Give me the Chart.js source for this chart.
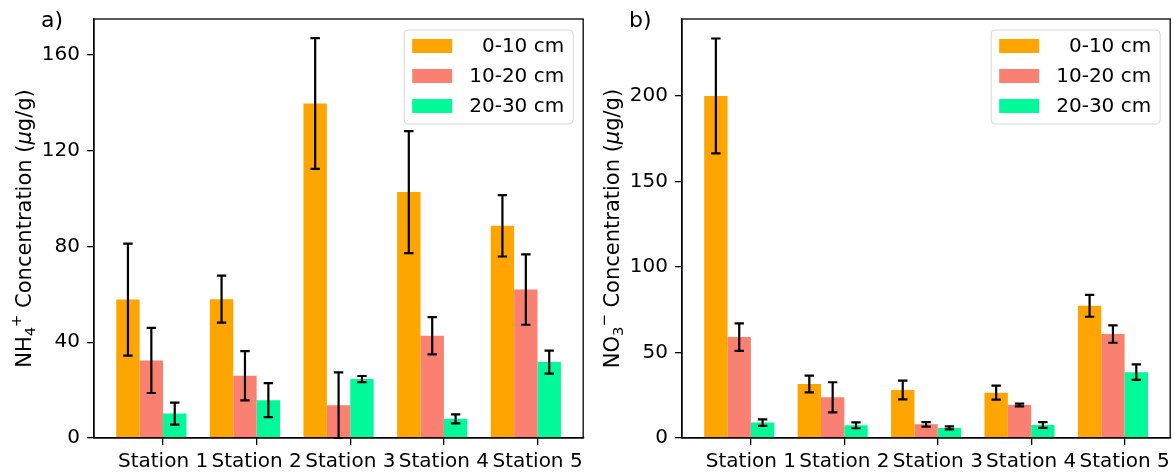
<!DOCTYPE html>
<html>
<head>
<meta charset="utf-8">
<script src="https://cdn.jsdelivr.net/npm/chart.js@4.4.0/dist/chart.umd.min.js"></script>
<style>
  body { margin: 0; background: #fff; }
  #wrap { display: flex; width: 1175px; height: 474px; }
  canvas { display: block; }
</style>
</head>
<body>
<div id="wrap">
  <canvas id="chartA" width="588" height="474"></canvas>
  <canvas id="chartB" width="587" height="474"></canvas>
</div>
<script>
// data
const stations = ["Station 1", "Station 2", "Station 3", "Station 4", "Station 5"];
const depths = ["0-10 cm", "10-20 cm", "20-30 cm"];

const nh4Top = [57.8, 58.0, 139.7, 102.7, 88.6];
const nh4TopErr = [23.4, 9.8, 27.3, 25.5, 12.8];
const nh4Mid = [32.4, 26.0, 13.7, 42.7, 62.0];
const nh4MidErr = [13.6, 10.3, 13.7, 7.8, 14.7];
const nh4Low = [10.2, 15.8, 24.6, 8.0, 31.7];
const nh4LowErr = [4.6, 7.1, 1.3, 1.9, 4.8];

const no3Top = [200.0, 31.6, 28.1, 26.5, 77.3];
const no3TopErr = [33.6, 4.9, 5.5, 4.1, 6.4];
const no3Mid = [59.0, 23.8, 8.0, 19.3, 60.8];
const no3MidErr = [8.0, 8.8, 1.3, 0.8, 5.1];
const no3Low = [9.0, 7.4, 5.9, 7.6, 38.5];
const no3LowErr = [1.9, 1.7, 0.9, 1.7, 4.5];

const nh4Ticks = [0, 40, 80, 120, 160];
const no3Ticks = [0, 50, 100, 150, 200];

const barColors = ["#FFA500", "#FA8072", "#00FA9A"];
const FONT = '"DejaVu Sans", sans-serif';

Chart.defaults.font.family = FONT;
Chart.defaults.font.size = 20;
Chart.defaults.color = "#000";

function drawRichTitle(ctx, parts, cx, cy, size) {
    ctx.save();
    ctx.translate(cx, cy);
    ctx.rotate(-Math.PI / 2);
    const fontFor = (p) => (p.italic ? "italic " : "") + (p.sub || p.sup ? size * 0.7 : size) + "px " + FONT;
    let total = 0;
    parts.forEach((p) => {
        ctx.font = fontFor(p);
        p.w = ctx.measureText(p.t).width;
        total += p.w;
    });
    let x = -total / 2;
    ctx.fillStyle = "#000";
    ctx.textBaseline = "alphabetic";
    parts.forEach((p) => {
        ctx.font = fontFor(p);
        const dy = p.sub ? size * 0.22 : p.sup ? -size * 0.45 : 0;
        ctx.fillText(p.t, x, dy + size * 0.36);
        x += p.w;
    });
    ctx.restore();
}

const panelPlugin = {
    id: "panel",
    afterDatasetsDraw(chart, args, opts) {
        const ctx = chart.ctx;
        const y = chart.scales.y;
        ctx.save();
        ctx.strokeStyle = "#000";
        ctx.lineWidth = 2.2;
        chart.data.datasets.forEach((ds, i) => {
            chart.getDatasetMeta(i).data.forEach((bar, j) => {
                const v = ds.data[j].y;
                const e = ds.errors[j];
                const yt = y.getPixelForValue(v + e);
                const yb = y.getPixelForValue(Math.max(0, v - e));
                ctx.beginPath();
                ctx.moveTo(bar.x, yt); ctx.lineTo(bar.x, yb);
                ctx.moveTo(bar.x - 4.7, yt); ctx.lineTo(bar.x + 4.7, yt);
                ctx.moveTo(bar.x - 4.7, yb); ctx.lineTo(bar.x + 4.7, yb);
                ctx.stroke();
            });
        });
        ctx.restore();
    },
    afterDraw(chart, args, opts) {
        const ctx = chart.ctx;
        const a = chart.chartArea;
        ctx.save();
        // frame
        ctx.strokeStyle = "#000";
        ctx.lineWidth = 1.3;
        ctx.strokeRect(a.left, a.top, a.right - a.left, a.bottom - a.top);

        // legend
        const w = 169, h = 94;
        const lx = a.right - 10 - w, ly = a.top + 11;
        ctx.beginPath();
        ctx.roundRect(lx, ly, w, h, 4);
        ctx.fillStyle = "rgba(255,255,255,0.8)";
        ctx.fill();
        ctx.strokeStyle = "#d6d6d6";
        ctx.lineWidth = 1;
        ctx.stroke();
        ctx.font = "20px " + FONT;
        ctx.textAlign = "right";
        ctx.textBaseline = "middle";
        chart.data.datasets.forEach((ds, i) => {
            const ry = ly + 16 + i * 30;
            ctx.fillStyle = ds.backgroundColor;
            ctx.fillRect(lx + 8, ry - 7, 40, 14);
            ctx.fillStyle = "#000";
            ctx.fillText(ds.label, lx + w - 9, ry + 1);
        });

        // panel letter
        ctx.textAlign = "left";
        ctx.textBaseline = "alphabetic";
        ctx.font = "22px " + FONT;
        ctx.fillText(opts.letter, 41, 27);

        // y title
        drawRichTitle(ctx, opts.title, 23, (a.top + a.bottom) / 2, 21);
        ctx.restore();
    }
};

function makeChart(id, series, errors, yMax, yTicks, letter, title, rightPad) {
    return new Chart(document.getElementById(id), {
        type: "bar",
        data: {
            datasets: depths.map((d, k) => ({
                label: d,
                data: series[k].map((v, i) => ({ x: i, y: v })),
                errors: errors[k],
                backgroundColor: barColors[k],
                borderWidth: 0,
                categoryPercentage: 0.75,
                barPercentage: 1.0,
            })),
        },
        options: {
            responsive: false,
            animation: false,
            layout: { padding: { top: 19, right: rightPad, left: 0, bottom: 0 } },
            plugins: {
                legend: { display: false },
                tooltip: { enabled: false },
                panel: { letter: letter, title: title },
            },
            scales: {
                x: {
                    type: "linear",
                    offset: false,
                    min: -0.6125,
                    max: 4.6125,
                    afterBuildTicks: (s) => {
                        s.ticks = stations.map((st, i) => ({ value: i + 0.125 }));
                    },
                    afterFit: (s) => { s.height = 36; },
                    ticks: {
                        autoSkip: false,
                        maxRotation: 0,
                        padding: 5,
                        callback: (v, i) => stations[i],
                    },
                    grid: { offset: false, drawOnChartArea: false, drawTicks: true, tickLength: 7, color: "#000", lineWidth: 1.3 },
                    border: { display: true, color: "#000", width: 1.3 },
                },
                y: {
                    min: 0,
                    max: yMax,
                    afterBuildTicks: (s) => {
                        s.ticks = yTicks.map((v) => ({ value: v }));
                    },
                    afterFit: (s) => { s.width = 94; },
                    ticks: { padding: 7 },
                    grid: { drawOnChartArea: false, drawTicks: true, tickLength: 7, color: "#000", lineWidth: 1.3 },
                    border: { display: true, color: "#000", width: 1.3 },
                },
            },
        },
        plugins: [panelPlugin],
    });
}

makeChart("chartA",
    [nh4Top, nh4Mid, nh4Low],
    [nh4TopErr, nh4MidErr, nh4LowErr],
    175, nh4Ticks, "a)",
    [{ t: "NH" }, { t: "4", sub: true }, { t: "+", sup: true }, { t: " Concentration (" }, { t: "\u03bc", italic: true }, { t: "g/g)" }],
    4);

makeChart("chartB",
    [no3Top, no3Mid, no3Low],
    [no3TopErr, no3MidErr, no3LowErr],
    245, no3Ticks, "b)",
    [{ t: "NO" }, { t: "3", sub: true }, { t: "\u2212", sup: true }, { t: " Concentration (" }, { t: "\u03bc", italic: true }, { t: "g/g)" }],
    3);
</script>
</body>
</html>
